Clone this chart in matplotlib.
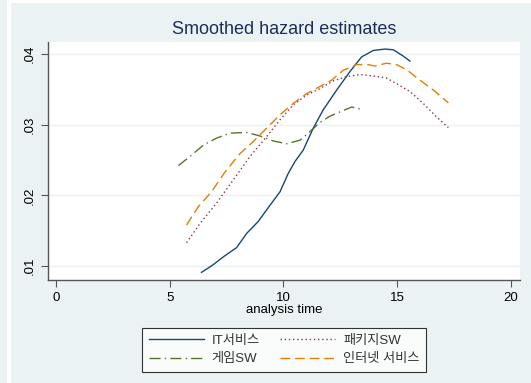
import numpy as np
import matplotlib.pyplot as plt
from matplotlib.patches import Rectangle

plt.rcParams['font.family'] = ['Liberation Sans', 'Noto Sans CJK KR', 'DejaVu Sans']

# smoothed hazard curves
it_t = [6.40, 6.92, 7.36, 7.94, 8.38, 8.89, 9.41, 9.85, 10.21, 10.51, 10.87, 11.31,
        11.75, 12.34, 12.92, 13.44, 13.95, 14.46, 14.83, 15.27, 15.56]
it_h = [0.0091, 0.0102, 0.0113, 0.0126, 0.0146, 0.0163, 0.0186, 0.0205, 0.0231, 0.0248,
        0.0264, 0.0295, 0.0321, 0.0349, 0.0375, 0.0396, 0.0405, 0.0407, 0.0406, 0.0397, 0.0390]

pkg_t = [5.74, 6.33, 7.06, 7.80, 8.53, 9.26, 9.85, 10.43, 11.02, 11.60, 12.19, 12.78,
         13.36, 13.95, 14.53, 14.97, 15.56, 16.15, 16.73, 17.25]
pkg_h = [0.0133, 0.0160, 0.0189, 0.0222, 0.0255, 0.0283, 0.0307, 0.0328, 0.0342, 0.0351,
         0.0362, 0.0368, 0.0371, 0.0369, 0.0366, 0.0358, 0.0347, 0.0330, 0.0311, 0.0296]

game_t = [5.38, 5.89, 6.48, 7.06, 7.65, 8.38, 8.97, 9.55, 10.14, 10.73, 11.16, 11.60,
          12.04, 12.48, 13.00, 13.51]
game_h = [0.0242, 0.0255, 0.0271, 0.0281, 0.0288, 0.0289, 0.0284, 0.0277, 0.0273, 0.0278,
          0.0290, 0.0303, 0.0312, 0.0318, 0.0325, 0.0321]

net_t = [5.74, 6.26, 6.84, 7.43, 8.09, 8.67, 9.26, 9.85, 10.43, 11.02, 11.60, 12.12,
         12.63, 13.22, 13.73, 14.02, 14.53, 14.97, 15.41, 16.00, 16.59, 17.25]
net_h = [0.0158, 0.0184, 0.0205, 0.0233, 0.0259, 0.0276, 0.0295, 0.0314, 0.0330, 0.0344,
         0.0354, 0.0363, 0.0377, 0.0385, 0.0385, 0.0383, 0.0387, 0.0385, 0.0378, 0.0363,
         0.0349, 0.0331]

x_ticks = [0, 5, 10, 15, 20]
y_ticks = [0.01, 0.02, 0.03, 0.04]
y_labels = ['.01', '.02', '.03', '.04']

bg = '#eaf2f3'
fig = plt.figure(figsize=(5.31, 3.83), dpi=100, facecolor=bg)
# odd white strips in the reference screenshot
fig.patches.append(Rectangle((7 / 531, 0), 4 / 531, 1, transform=fig.transFigure,
                             facecolor='white', edgecolor='none', zorder=-1))
fig.patches.append(Rectangle((11 / 531, 1 - 3 / 383), 1, 3 / 383, transform=fig.transFigure,
                             facecolor='white', edgecolor='none', zorder=-1))

ax = fig.add_axes([48 / 531, 1 - 280 / 383, 472 / 531, 238 / 383])
ax.set_facecolor('white')

ax.plot(it_t, it_h, color='#1a476f', lw=1.0, label='IT서비스')
ax.plot(game_t, game_h, color='#55752f', lw=1.0, dashes=(8, 3, 1, 3), label='게임SW')
ax.plot(pkg_t, pkg_h, color='#90353b', lw=1.0, dashes=(1, 2), label='패키지SW')
ax.plot(net_t, net_h, color='#e37e00', lw=1.0, dashes=(7, 3.5), label='인터넷 서비스')

ax.set_xlim(-0.35, 20.4)
ax.set_ylim(0.00802, 0.0417)
ax.set_xticks(x_ticks)
ax.set_yticks(y_ticks)
ax.set_yticklabels(y_labels, rotation=90, va='center')
for yv in y_ticks:
    ax.axhline(yv, color=bg, lw=1.0, zorder=0)

for s in ['top', 'right']:
    ax.spines[s].set_visible(False)
for s in ['left', 'bottom']:
    ax.spines[s].set_color('#555555')
    ax.spines[s].set_linewidth(1.0)
ax.tick_params(direction='out', length=5, width=0.8, color='#555555',
               labelsize=9.5, labelcolor='black')

ax.set_xlabel('analysis time', fontsize=9.5, labelpad=0)
ax.set_title('Smoothed hazard estimates', fontsize=13, color='#1e2d5a', pad=6)

leg = ax.legend(loc='upper center', bbox_to_anchor=(0.5, -0.175), ncol=2,
                fontsize=9.5, frameon=True, fancybox=False, handlelength=4.2,
                handletextpad=0.6, columnspacing=1.5, borderpad=0.5, labelspacing=0.45)
leg.get_frame().set_edgecolor('black')
leg.get_frame().set_linewidth(0.8)
for t in leg.get_texts():
    t.set_color('#333333')

fig.savefig('out.png', dpi=100, facecolor=bg)
